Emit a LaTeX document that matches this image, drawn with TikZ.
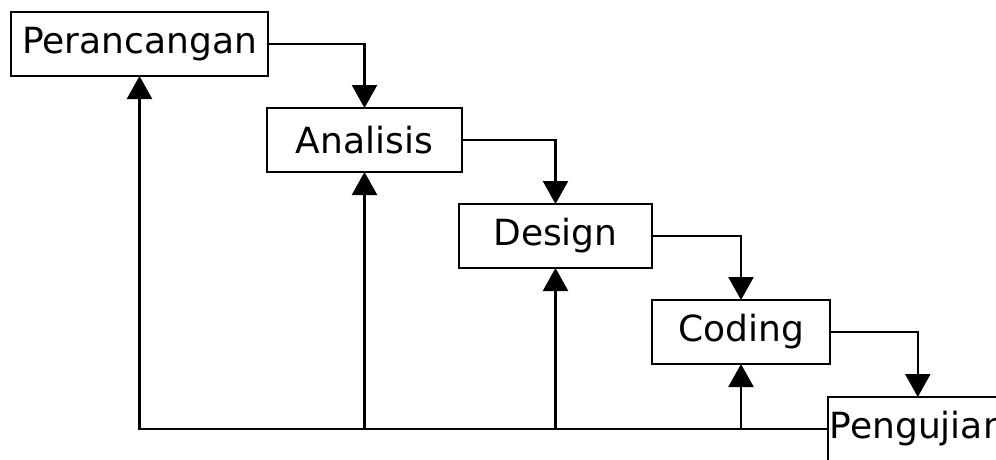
\documentclass[tikz,border=0pt]{standalone}
\usepackage{fontspec}
\setmainfont{DejaVu Sans}
\usepackage{tikz}
\usetikzlibrary{positioning,arrows.meta}

\begin{document}
\begin{tikzpicture}[
		tahap/.style={draw=black,line width=1.4pt,fill=white,minimum height=1.28cm,inner xsep=1pt,outer sep=0pt,font=\fontsize{20.5}{24}\selectfont},
		alur/.style={-{Triangle[length=0.46cm,width=0.5cm]},line width=1.4pt}]
		\useasboundingbox (0,0) rectangle (19.92,-9.18);
		\clip (0,0) rectangle (19.92,-9.18);
		
		\node[tahap,minimum width=5.14cm,anchor=north west] (per) at (0.22,-0.24) {Perancangan};
		\node[tahap,minimum width=3.9cm,below right=0.64cm and -0.02cm of per] (ana) {Analisis};
		\node[tahap,minimum width=3.86cm,below right=0.64cm and -0.06cm of ana] (des) {Design};
		\node[tahap,minimum width=3.56cm,below right=0.64cm and 0cm of des] (cod) {Coding};
		\node[tahap,minimum width=3.56cm,below right=0.66cm and -0.04cm of cod] (uji) {Pengujian};
		
		% alur turun
		\draw[alur] (per.east) -| (ana.north);
		\draw[alur] (ana.east) -| (des.north);
		\draw[alur] (des.east) -| (cod.north);
		\draw[alur] (cod.east) -| (uji.north);
		
		% umpan balik dari pengujian
		\draw[alur] (uji.west) -| (per.south);
		\draw[alur] (ana.south |- uji.west) -- (ana.south);
		\draw[alur] (des.south |- uji.west) -- (des.south);
		\draw[alur] (cod.south |- uji.west) -- (cod.south);
	\end{tikzpicture}
\end{document}
